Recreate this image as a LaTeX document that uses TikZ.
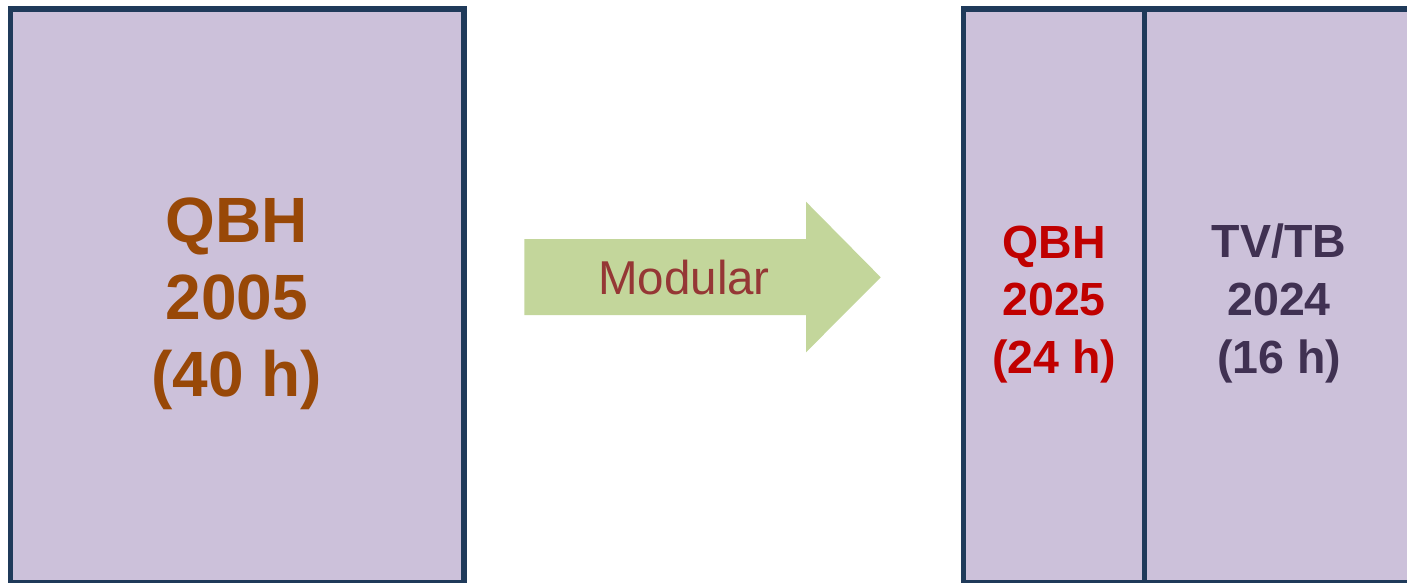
\documentclass[tikz,border=0pt]{standalone}
\usepackage{fontspec}
\setmainfont{Liberation Sans}
\definecolor{boxfill}{HTML}{CCC1DA}
\definecolor{boxline}{HTML}{1F3A5A}
\definecolor{arrowfill}{HTML}{C3D69B}
\definecolor{modtext}{HTML}{953735}
\definecolor{oldqbh}{HTML}{984807}
\definecolor{newqbh}{HTML}{C00000}
\definecolor{tvtb}{HTML}{403152}
\tikzset{
  panel/.style={fill=boxfill, draw=boxline, line width=5.3pt},
  bigtext/.style={font=\bfseries\fontsize{64}{76}\selectfont, text=oldqbh, anchor=base, inner sep=0pt},
  redtext/.style={font=\bfseries\fontsize{46.5}{56}\selectfont, text=newqbh, anchor=base, inner sep=0pt},
  purtext/.style={font=\bfseries\fontsize{46.5}{56}\selectfont, text=tvtb, anchor=base, inner sep=0pt},
  modlabel/.style={font=\fontsize{47.5}{56}\selectfont, text=modtext, anchor=base, inner sep=0pt}
}
\begin{document}
\begin{tikzpicture}[x=1pt,y=-1pt]
\useasboundingbox (0,0) rectangle (1407,582);
\clip (0,0) rectangle (1407,582);
% left panel
\draw[panel] (10.5,9) rectangle (464,583);
\node[bigtext] (l1) at (237,242.5) {QBH};
\node[bigtext] (l2) at (237,319.5) {2005};
\node[bigtext] (l3) at (237,396.7) {(40 h)};
% arrow
\fill[arrowfill] (524.3,239) -- (806,239) -- (806,201.7) -- (880.7,277.3) -- (806,352.3) -- (806,315) -- (524.3,315) -- cycle;
\node[modlabel] (mod) at (684,294) {Modular};
% right panel
\draw[panel] (963.5,9) rectangle (1413.5,583);
\draw[boxline, line width=5.3pt] (1144.5,9) -- (1144.5,583);
\node[redtext] (r1) at (1054,258.3) {QBH};
\node[redtext] (r2) at (1054,315) {2025};
\node[redtext] (r3) at (1054,373) {(24 h)};
\node[purtext] (t1) at (1279,257.7) {TV/TB};
\node[purtext] (t2) at (1279,315) {2024};
\node[purtext] (t3) at (1279,373) {(16 h)};
\end{tikzpicture}
\end{document}
